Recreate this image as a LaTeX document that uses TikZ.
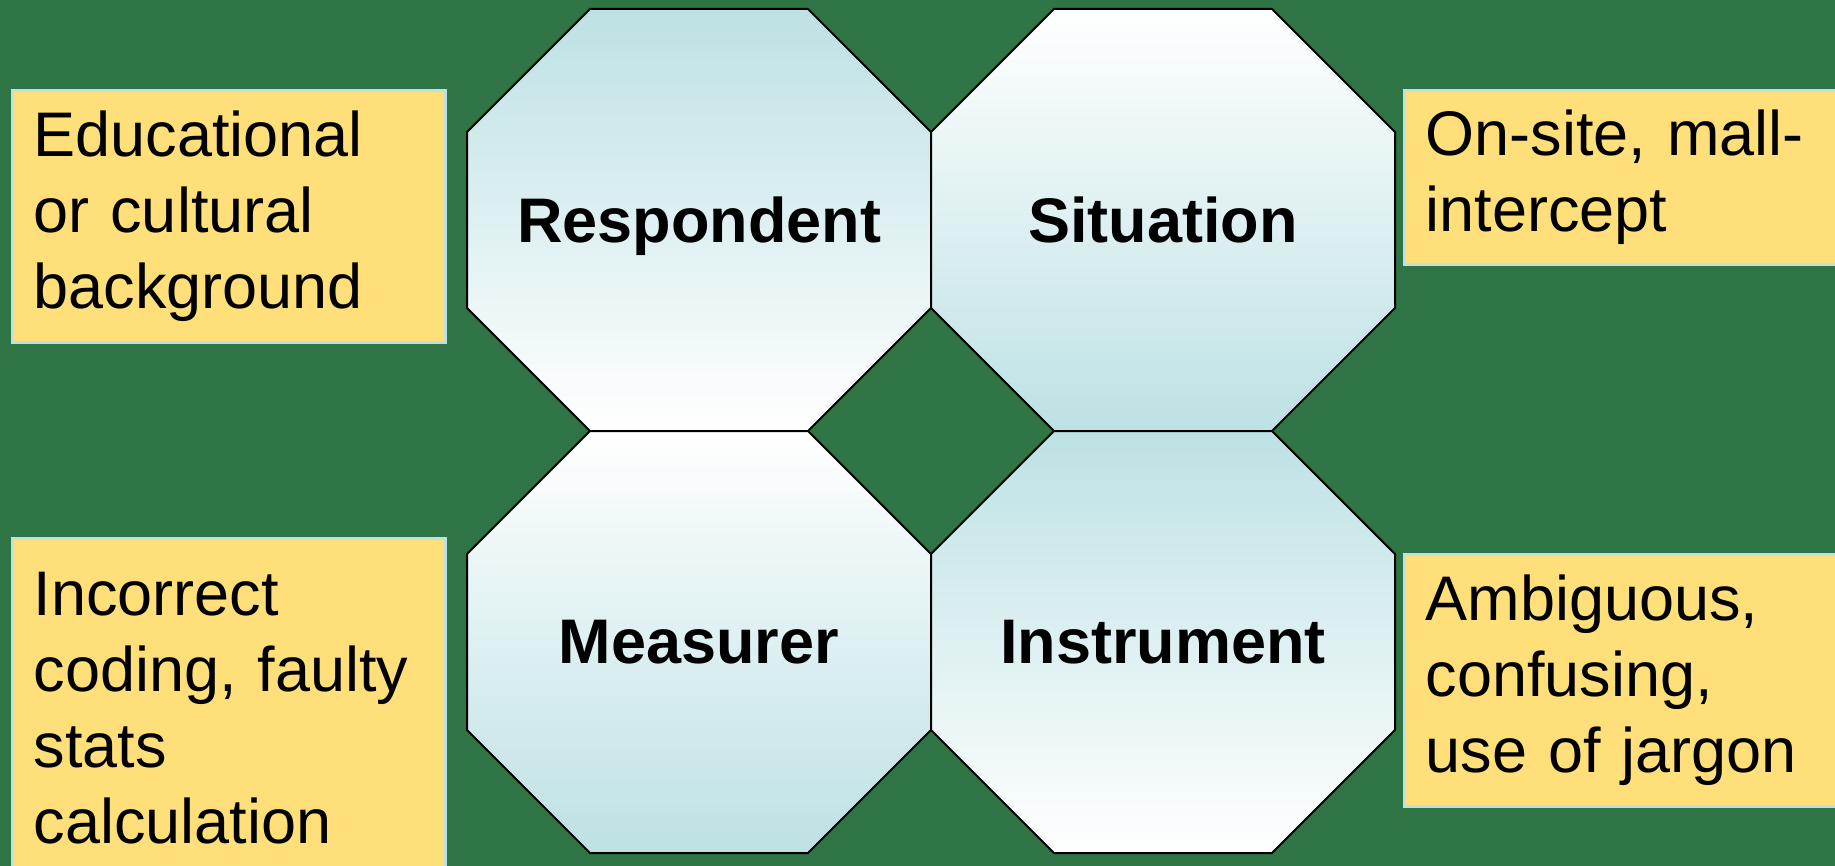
\documentclass[tikz,border=0pt]{standalone}
\usepackage{fontspec}
\setmainfont{Liberation Sans}
\usetikzlibrary{positioning}

\definecolor{bggreen}{RGB}{46,116,69}
\definecolor{notefill}{RGB}{255,223,122}
\definecolor{noteedge}{RGB}{189,224,228}
\definecolor{octblue}{RGB}{189,225,228}

\tikzset{
  notebox/.style={draw=noteedge,line width=1.5pt,fill=notefill,anchor=north west,
    minimum width=216.5pt,text width=195.5pt,inner xsep=10.5pt,align=left,
    font=\fontsize{31.5}{38}\selectfont},
  octlabel/.style={font=\bfseries\fontsize{31.5}{38}\selectfont,text depth=0pt}
}

\begin{document}
\begin{tikzpicture}[x=0.5pt,y=-0.5pt]
	\clip (0,0) rectangle (1835,866);
	\fill[bggreen] (0,0) rectangle (1835,866);
	% the four octagons
	\foreach \cx/\cy/\topc/\botc/\name/\txt in
		{699/220/octblue/white/resp/Respondent,1163/220/white/octblue/sit/Situation,
		 699/642/white/octblue/meas/Measurer,1163/642/octblue/white/instr/Instrument}
	{
		\shade[draw=black,line width=1pt,top color=\topc,bottom color=\botc]
			(\cx-109,\cy-211) -- (\cx+109,\cy-211) -- (\cx+232,\cy-88) -- (\cx+232,\cy+88)
			-- (\cx+109,\cy+211) -- (\cx-109,\cy+211) -- (\cx-232,\cy+88) -- (\cx-232,\cy-88) -- cycle;
		\node[octlabel] (\name) at (\cx,\cy) {\txt};
	}
	% notes
	\node[notebox,minimum height=126pt] (edu) at (11,89) {Educational\\or cultural\\background};
	\node[notebox,minimum height=87pt] (onsite) at (1403,89) {On-site, mall-\\intercept};
	\node[notebox,minimum height=170pt] (coding) at (11,537) {Incorrect\\coding, faulty\\stats\\calculation};
	\node[notebox,minimum height=126pt] (jargon) at (1403,553) {Ambiguous,\\confusing,\\use of jargon};
\end{tikzpicture}
\end{document}
